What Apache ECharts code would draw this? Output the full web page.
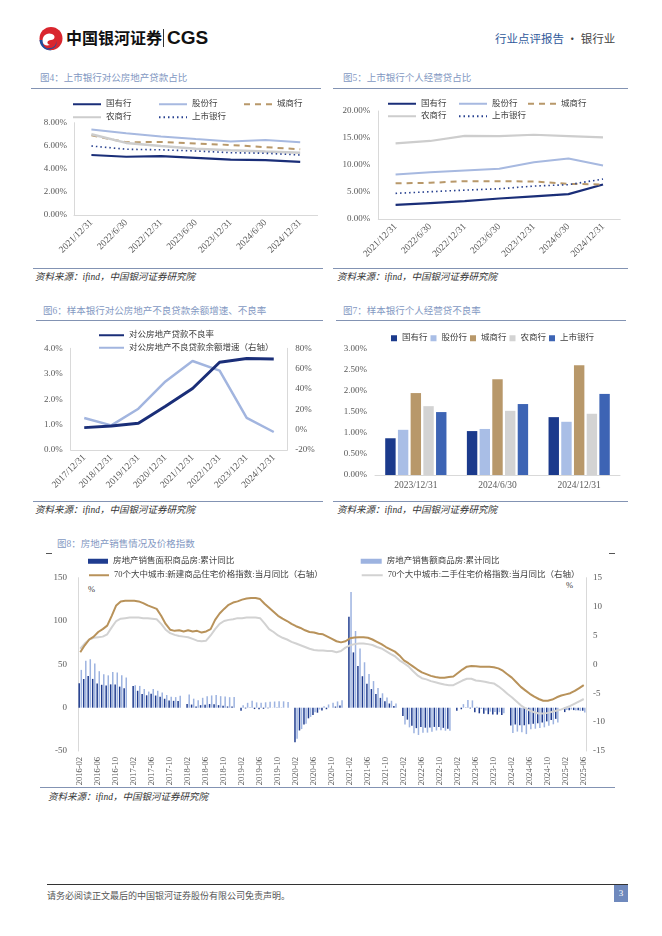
<!DOCTYPE html>
<html><head><meta charset="utf-8">
<script src="https://cdn.jsdelivr.net/npm/echarts@6/dist/echarts.min.js"></script>
<style>
body{margin:0;width:662px;height:936px;position:relative;background:#fff;overflow:hidden;font-family:'Liberation Serif','Noto Sans CJK SC',serif;}
.c{position:absolute;left:0;top:0;width:662px;height:936px;}
.t{position:absolute;white-space:nowrap;line-height:1;}
.hl{position:absolute;height:0;border-top:1px solid #8393B3;}
.ttl{font-size:9.5px;color:#8398C2;}
.src{font-size:9.5px;color:#333;font-style:italic;}
</style></head><body>

<svg style="position:absolute;left:37px;top:26px" width="27" height="25" viewBox="0 0 27 25">
 <circle cx="14" cy="12.5" r="11.5" fill="#D9262E"/>
 <path d="M2.5 14 C3 21 9 25 15 24.5 C8 23 5 19 6 14 Z" fill="#1D4E9E"/>
 <path d="M6 17 C4 10 10 6 15 8 C19 9.5 18 14 14 14 C10 14 9 18 13 19 C9 20 7 19 6 17Z" fill="#fff"/>
 <path d="M8 21 C13 24 20 21 19 15 C21 20 16 24 11 23 Z" fill="#1D4E9E"/>
</svg>
<div class="t" style="left:66px;top:29px;font-size:16px;font-weight:bold;color:#111;font-family:'Noto Sans CJK SC',sans-serif;">中国银河证券</div>
<div style="position:absolute;left:163px;top:29px;width:1px;height:18px;background:#333;"></div>
<div class="t" style="left:167px;top:28px;font-size:19px;font-weight:bold;color:#111;font-family:'Liberation Sans',Arial,sans-serif;">CGS</div>
<div class="t" style="left:495px;top:33px;font-size:11.5px;color:#2F5A9B;font-family:'Noto Sans CJK SC',sans-serif;">行业点评报告<span style="color:#444;"> · 银行业</span></div>

<div class="t ttl" style="left:40px;top:74px;">图4：上市银行对公房地产贷款占比</div>
<div class="hl" style="left:31px;top:88px;width:290px;"></div>
<div class="t ttl" style="left:343px;top:74px;">图5：上市银行个人经营贷占比</div>
<div class="hl" style="left:333px;top:88px;width:295px;"></div>
<div class="hl" style="left:33px;top:268px;width:290px;"></div>
<div class="hl" style="left:333px;top:268px;width:295px;"></div>
<div class="t src" style="left:35px;top:273px;">资料来源：ifind，中国银河证券研究院</div>
<div class="t src" style="left:337px;top:273px;">资料来源：ifind，中国银河证券研究院</div>

<div class="t ttl" style="left:43px;top:307px;">图6：样本银行对公房地产不良贷款余额增速、不良率</div>
<div class="hl" style="left:36px;top:320px;width:287px;"></div>
<div class="t ttl" style="left:343px;top:307px;">图7：样本银行个人经营贷不良率</div>
<div class="hl" style="left:336px;top:320px;width:290px;"></div>
<div class="hl" style="left:33px;top:501px;width:290px;"></div>
<div class="hl" style="left:333px;top:501px;width:295px;"></div>
<div class="t src" style="left:35px;top:506px;">资料来源：ifind，中国银河证券研究院</div>
<div class="t src" style="left:337px;top:506px;">资料来源：ifind，中国银河证券研究院</div>

<div class="t ttl" style="left:57px;top:540px;">图8：房地产销售情况及价格指数</div>
<div style="position:absolute;left:46px;top:553px;width:6px;height:1px;background:#555;"></div>
<div style="position:absolute;left:609px;top:553px;width:6px;height:1px;background:#555;"></div>
<div class="t" style="left:88px;top:585px;font-size:8.5px;color:#404040;">%</div>
<div class="t" style="left:566px;top:581px;font-size:8.5px;color:#404040;">%</div>
<div class="hl" style="left:40px;top:787px;width:575px;"></div>
<div class="t src" style="left:48px;top:793px;">资料来源：ifind，中国银河证券研究院</div>

<div style="position:absolute;left:47px;top:884px;width:581px;height:1px;background:#333;"></div>
<div class="t" style="left:47px;top:891px;font-size:9px;color:#555;font-family:'Noto Sans CJK SC',sans-serif;">请务必阅读正文最后的中国银河证券股份有限公司免责声明。</div>
<div style="position:absolute;left:614px;top:885px;width:14px;height:17px;background:#6F89BD;color:#fff;font-size:9px;text-align:center;line-height:17px;">3</div>

<div id="c4" class="c"></div>
<div id="c5" class="c"></div>
<div id="c6" class="c"></div>
<div id="c7" class="c"></div>
<div id="c8" class="c"></div>

<script>
// ---------- data ----------
const f4Cats = ['2021/12/31','2022/6/30','2022/12/31','2023/6/30','2023/12/31','2024/6/30','2024/12/31'];
const f4Guoyou = [5.2, 5.05, 5.1, 4.95, 4.8, 4.75, 4.6];
const f4Gufen = [7.42, 7.08, 6.8, 6.58, 6.38, 6.5, 6.3];
const f4Chengshang = [6.9, 6.3, 6.33, 6.2, 6.07, 5.88, 5.7];
const f4Nongshang = [7.0, 6.25, 5.98, 5.75, 5.62, 5.5, 5.4];
const f4Shangshi = [5.98, 5.7, 5.65, 5.55, 5.4, 5.35, 5.2];

const f5Cats = ['2021/12/31','2022/6/30','2022/12/31','2023/6/30','2023/12/31','2024/6/30','2024/12/31'];
const f5Guoyou = [2.6, 2.95, 3.3, 3.8, 4.2, 4.6, 6.4];
const f5Gufen = [8.25, 8.65, 9.0, 9.3, 10.5, 11.2, 9.9];
const f5Chengshang = [6.6, 6.7, 7.0, 7.0, 6.95, 6.5, 6.4];
const f5Nongshang = [14.0, 14.45, 15.4, 15.35, 15.6, 15.35, 15.1];
const f5Shangshi = [4.75, 5.05, 5.35, 5.6, 6.1, 6.35, 7.4];

const f6Cats = ['2017/12/31','2018/12/31','2019/12/31','2020/12/31','2021/12/31','2022/12/31','2023/12/31','2024/12/31'];
const f6NplRatio = [0.88, 0.94, 1.05, 1.72, 2.42, 3.45, 3.6, 3.58];
const f6NplGrowth = [11.5, 4.2, 20.6, 47.4, 67.5, 58, 11.5, -2.3];

const f7Cats = ['2023/12/31','2024/6/30','2024/12/31'];
const f7Guoyou = [0.87, 1.04, 1.37];
const f7Gufen = [1.07, 1.09, 1.26];
const f7Chengshang = [1.94, 2.27, 2.6];
const f7Nongshang = [1.63, 1.52, 1.45];
const f7Shangshi = [1.49, 1.68, 1.92];

const f8Months = [];
for (let y = 2016; y <= 2025; y++) for (let m = 1; m <= 12; m++) {
  if ((y === 2016 && m < 2) || (y === 2025 && m > 6)) continue;
  f8Months.push(y + '-' + String(m).padStart(2, '0'));
}
const f8Area = [
  28.2, 33.1, 36.5, 33.2, 27.9, 26.4, 25.5, 26.9, 26.8, 24.3, 22.5,
  null, 25.1, 19.5, 15.7, 14.3, 16.1, 14.0, 12.7, 10.3, 8.2, 7.9, 7.7,
  null, 4.1, 3.6, 1.3, 2.9, 3.3, 4.2, 4.0, 2.9, 2.2, 1.4, 1.3,
  null, -3.6, -0.9, -0.3, -1.6, -1.8, -1.3, -0.6, -0.1, 0.1, 0.2, -0.1,
  null, -39.9, -26.3, -19.3, -12.3, -8.4, -5.8, -3.3, -1.8, 0.0, 1.3, 2.6,
  null, 104.9, 63.8, 48.1, 36.3, 27.7, 21.5, 15.9, 11.3, 7.3, 4.8, 1.9,
  null, -9.6, -13.8, -20.9, -23.6, -22.2, -23.1, -23.0, -22.2, -22.3, -23.3, -24.3,
  null, -3.6, -1.8, -0.4, -0.9, -5.3, -6.5, -7.1, -7.5, -7.8, -8.0, -8.5,
  null, -20.5, -19.4, -20.2, -20.3, -19.0, -18.6, -18.0, -17.1, -15.8, -14.3, -12.9,
  null, -5.1, -3.0, -2.8, -2.9, -3.5
];
const f8Value = [
  43.6, 54.1, 55.9, 50.9, 42.1, 38.7, 37.3, 41.3, 40.6, 37.5, 34.8,
  null, 26.0, 25.1, 21.5, 18.6, 21.5, 19.5, 17.6, 14.6, 12.6, 12.2, 13.7,
  null, 15.3, 10.4, 8.5, 11.4, 13.2, 14.1, 14.5, 13.3, 13.0, 12.1, 12.2,
  null, 2.8, 5.6, 8.1, 6.1, 5.6, 6.2, 6.7, 7.1, 7.3, 7.3, 6.5,
  null, -35.9, -24.7, -18.6, -10.6, -5.4, -2.1, 1.6, 3.7, 5.8, 7.2, 8.7,
  null, 133.4, 88.5, 68.2, 52.4, 38.9, 30.7, 22.8, 16.6, 11.8, 8.0, 4.8,
  null, -19.3, -22.7, -29.5, -31.5, -28.9, -28.8, -27.9, -26.3, -26.1, -26.6, -26.7,
  null, -0.1, 4.1, 8.8, 8.4, 1.1, -1.5, -3.2, -4.6, -4.9, -5.2, -6.5,
  null, -29.3, -27.6, -28.3, -30.5, -25.0, -24.3, -23.6, -22.7, -20.9, -19.2, -17.1,
  null, -2.6, -2.1, -3.2, -3.8, -5.5
];
const f8NewPrice = [
  2.1, 3.3, 4.3, 4.8, 5.6, 6.1, 6.7, 8.4, 10.2, 10.9, 11.0, 11.0,
  11.0, 10.9, 10.6, 10.2, 9.9, 9.6, 8.4, 7.0, 6.0, 5.8, 5.9, 5.7,
  5.9, 5.7, 5.8, 5.5, 5.7, 6.1, 7.7, 8.8, 9.6, 10.3, 10.7, 10.9,
  11.2, 11.4, 11.5, 11.5, 11.3, 10.5, 9.8, 9.1, 8.4, 7.9, 7.5, 7.0,
  6.6, 6.3, 5.9, 5.6, 5.5, 5.3, 5.2, 4.8, 4.4, 4.0, 3.8, 4.0,
  4.5, 4.65, 4.7, 4.7, 4.6, 4.3, 3.9, 3.5, 3.0, 2.6, 2.2, 1.55,
  0.7, 0.2, -0.35, -0.9, -1.4, -1.7, -2.0, -2.2, -2.3, -2.3, -2.2, -2.1,
  -1.5, -0.9, -0.4, -0.3, -0.35, -0.4, -0.4, -0.4, -0.5, -0.7, -1.1, -1.7,
  -2.3, -3.1, -3.9, -4.5, -5.1, -5.6, -6.0, -6.3, -6.3, -6.1, -5.7, -5.4,
  -5.2, -5.0, -4.6, -4.1, -3.6
];
const f8UsedPrice = [
  2.7, 3.6, 4.3, 4.6, 4.7, 4.8, 5.2, 6.4, 7.5, 7.9, 8.0, 8.1,
  8.1, 8.1, 8.0, 8.0, 7.9, 7.8, 7.0, 6.0, 5.4, 5.1, 4.9, 4.8,
  4.7, 4.4, 4.1, 4.0, 4.1, 5.0, 6.1, 7.0, 7.5, 7.7, 7.8, 8.0,
  8.0, 8.1, 8.1, 8.1, 8.0, 7.1, 6.1, 5.6, 5.0, 4.6, 4.3, 3.9,
  3.6, 3.3, 3.0, 2.7, 2.5, 2.4, 2.4, 2.3, 2.3, 2.1, 2.3, 2.9,
  3.3, 3.5, 3.6, 3.6, 3.5, 3.35, 3.0, 2.75, 2.3, 1.8, 1.4, 0.7,
  0.2, -0.35, -1.15, -1.9, -2.4, -2.6, -2.9, -3.1, -3.3, -3.5, -3.6, -3.6,
  -3.2, -2.8, -2.5, -2.5, -2.8, -2.9, -3.0, -3.2, -3.3, -3.8, -4.4, -5.1,
  -5.7, -6.4, -7.1, -7.6, -8.0, -8.3, -8.5, -8.5, -8.4, -8.2, -8.0, -7.8,
  -7.5, -7.2, -6.8, -6.4, -6.0
];

// ---------- common ----------
const FONT = "'Liberation Serif','Noto Sans CJK SC',serif";
const LBL = '#595959';
const AXL = '#D9D9D9';
const C_NAVY = '#1A2E78', C_LBLUE = '#A7B9E0', C_TAN = '#B8986A', C_GRAY = '#CDCDCD', C_DOT = '#27408F';

function leg(name, left, top, extra) {
  return Object.assign({
    data: [name], left: left, top: top, padding: 0, itemWidth: 28, itemHeight: 8,
    itemStyle: { opacity: 0 },
    textStyle: { fontSize: 8.5, color: '#404040', fontFamily: FONT }
  }, extra || {});
}
function catAxis(cats, rot, fs) {
  return {
    type: 'category', data: cats, boundaryGap: true,
    axisLine: { show: true, lineStyle: { color: AXL, width: 1 } },
    axisTick: { show: false },
    axisLabel: { rotate: rot, fontSize: fs, color: LBL, fontFamily: FONT, margin: 6, interval: 0 }
  };
}
function lineS(name, data, color, width, type, extra) {
  return Object.assign({
    name: name, type: 'line', data: data, symbol: 'none', smooth: false,
    lineStyle: { color: color, width: width, type: type }, itemStyle: { color: color }
  }, extra || {});
}
function mk(id, opt) {
  const ch = echarts.init(document.getElementById(id), null, { renderer: 'canvas' });
  opt.animation = false;
  opt.textStyle = { fontFamily: FONT };
  ch.setOption(opt);
}

// ---------- Fig 4 ----------
mk('c4', {
  grid: { left: 74, top: 122.7, width: 243.6, height: 92.3, containLabel: false, outerBoundsMode: 'none' },
  legend: [
    leg('国有行', 72, 100), leg('股份行', 158, 100), leg('城商行', 243, 100),
    leg('农商行', 72, 113), leg('上市银行', 158, 113)
  ],
  xAxis: catAxis(f4Cats, 45, 9.5),
  yAxis: {
    type: 'value', min: 0, max: 8, interval: 2,
    axisLine: { show: true, lineStyle: { color: AXL } }, axisTick: { show: false }, splitLine: { show: false },
    axisLabel: { fontSize: 9, color: LBL, margin: 7, formatter: v => v.toFixed(2) + '%' }
  },
  series: [
    lineS('国有行', f4Guoyou, C_NAVY, 2.2, 'solid'),
    lineS('股份行', f4Gufen, C_LBLUE, 2, 'solid'),
    lineS('城商行', f4Chengshang, C_TAN, 2, [6, 5]),
    lineS('农商行', f4Nongshang, C_GRAY, 2.5, 'solid'),
    lineS('上市银行', f4Shangshi, C_DOT, 1.6, [1.5, 3])
  ]
});

// ---------- Fig 5 ----------
mk('c5', {
  grid: { left: 378.3, top: 111, width: 242, height: 108, containLabel: false, outerBoundsMode: 'none' },
  legend: [
    leg('国有行', 387, 99.5), leg('股份行', 458, 99.5), leg('城商行', 527, 99.5),
    leg('农商行', 387, 112), leg('上市银行', 458, 112)
  ],
  xAxis: catAxis(f5Cats, 45, 9.5),
  yAxis: {
    type: 'value', min: 0, max: 20, interval: 5,
    axisLine: { show: true, lineStyle: { color: AXL } }, axisTick: { show: false }, splitLine: { show: false },
    axisLabel: { fontSize: 9, color: LBL, margin: 8, formatter: v => v.toFixed(2) + '%' }
  },
  series: [
    lineS('国有行', f5Guoyou, C_NAVY, 2.2, 'solid'),
    lineS('股份行', f5Gufen, C_LBLUE, 2, 'solid'),
    lineS('城商行', f5Chengshang, C_TAN, 2, [6, 5]),
    lineS('农商行', f5Nongshang, C_GRAY, 2.2, 'solid'),
    lineS('上市银行', f5Shangshi, C_DOT, 1.6, [1.5, 3])
  ]
});

// ---------- Fig 6 ----------
mk('c6', {
  grid: { left: 70.7, top: 348.3, width: 216.6, height: 101.7, containLabel: false, outerBoundsMode: 'none' },
  legend: [
    leg('对公房地产贷款不良率', 98, 331, { itemWidth: 25 }),
    leg('对公房地产不良贷款余额增速（右轴）', 98, 343.5, { itemWidth: 25 })
  ],
  xAxis: catAxis(f6Cats, 45, 9.5),
  yAxis: [
    {
      type: 'value', min: 0, max: 4, interval: 1,
      axisLine: { show: true, lineStyle: { color: AXL } }, axisTick: { show: false }, splitLine: { show: false },
      axisLabel: { fontSize: 9, color: LBL, margin: 8, formatter: v => v.toFixed(1) + '%' }
    },
    {
      type: 'value', min: -20, max: 80, interval: 20, position: 'right',
      axisLine: { show: true, lineStyle: { color: AXL } }, axisTick: { show: false }, splitLine: { show: false },
      axisLabel: { fontSize: 9, color: LBL, margin: 8, formatter: v => v + '%' }
    }
  ],
  series: [
    lineS('对公房地产贷款不良率', f6NplRatio, C_NAVY, 3, 'solid', { yAxisIndex: 0, z: 3 }),
    lineS('对公房地产不良贷款余额增速（右轴）', f6NplGrowth, '#A2B5DF', 2.5, 'solid', { yAxisIndex: 1, z: 2 })
  ]
});

// ---------- Fig 7 ----------
function barS(name, data, color) {
  return { name: name, type: 'bar', data: data, itemStyle: { color: color }, barGap: '22%', barCategoryGap: '25%' };
}
mk('c7', {
  grid: { left: 375, top: 348.3, width: 245, height: 126.7, containLabel: false, outerBoundsMode: 'none' },
  legend: {
    data: ['国有行', '股份行', '城商行', '农商行', '上市银行'], left: 391, top: 334, padding: 0,
    icon: 'rect', itemWidth: 6, itemHeight: 6, itemGap: 3,
    textStyle: { fontSize: 8.5, color: '#404040', fontFamily: FONT }
  },
  xAxis: Object.assign(catAxis(f7Cats, 0, 9.5), {}),
  yAxis: {
    type: 'value', min: 0, max: 3, interval: 0.5,
    axisLine: { show: false }, axisTick: { show: false }, splitLine: { show: false },
    axisLabel: { fontSize: 9, color: LBL, margin: 8, formatter: v => v.toFixed(2) + '%' }
  },
  series: [
    barS('国有行', f7Guoyou, '#1B3A8C'),
    barS('股份行', f7Gufen, '#A9BEE6'),
    barS('城商行', f7Chengshang, '#B8986A'),
    barS('农商行', f7Nongshang, '#D3D3D3'),
    barS('上市银行', f7Shangshi, '#3D64B4')
  ]
});

// ---------- Fig 8 ----------
mk('c8', {
  grid: { left: 78, top: 577.7, width: 508, height: 173.3, containLabel: false, outerBoundsMode: 'none' },
  legend: [
    leg('房地产销售面积商品房:累计同比', 88, 557, { icon: 'rect', itemWidth: 20, itemHeight: 5, itemStyle: {} }),
    leg('房地产销售额商品房:累计同比', 360.7, 557, { icon: 'rect', itemWidth: 21, itemHeight: 5, itemStyle: {} }),
    leg('70个大中城市:新建商品住宅价格指数:当月同比（右轴）', 88, 571, { itemWidth: 20 }),
    leg('70个大中城市:二手住宅价格指数:当月同比（右轴）', 360.7, 571, { itemWidth: 21 })
  ],
  xAxis: {
    type: 'category', data: f8Months, boundaryGap: true,
    axisLine: { show: false, onZero: false }, axisTick: { show: false },
    axisLabel: { rotate: 90, interval: 3, fontSize: 8.5, color: LBL, fontFamily: FONT, margin: 6 }
  },
  yAxis: [
    {
      type: 'value', min: -50, max: 150, interval: 50,
      axisLine: { show: true, lineStyle: { color: AXL } }, axisTick: { show: false }, splitLine: { show: false },
      axisLabel: { fontSize: 9, color: LBL, margin: 11 }
    },
    {
      type: 'value', min: -15, max: 15, interval: 5, position: 'right',
      axisLine: { show: true, lineStyle: { color: AXL } }, axisTick: { show: false }, splitLine: { show: false },
      axisLabel: { fontSize: 9, color: LBL, margin: 7 }
    }
  ],
  series: [
    { name: '房地产销售面积商品房:累计同比', type: 'bar', data: f8Area, yAxisIndex: 0, barWidth: 1.5, barGap: '40%', itemStyle: { color: '#1F3C8F' } },
    { name: '房地产销售额商品房:累计同比', type: 'bar', data: f8Value, yAxisIndex: 0, barWidth: 1.5, barGap: '40%', itemStyle: { color: '#9DB3E0' } },
    lineS('70个大中城市:新建商品住宅价格指数:当月同比（右轴）', f8NewPrice, '#B8925A', 2, 'solid', { yAxisIndex: 1, z: 3 }),
    lineS('70个大中城市:二手住宅价格指数:当月同比（右轴）', f8UsedPrice, '#D2D2D2', 2, 'solid', { yAxisIndex: 1, z: 2 })
  ]
});
</script>
</body></html>
